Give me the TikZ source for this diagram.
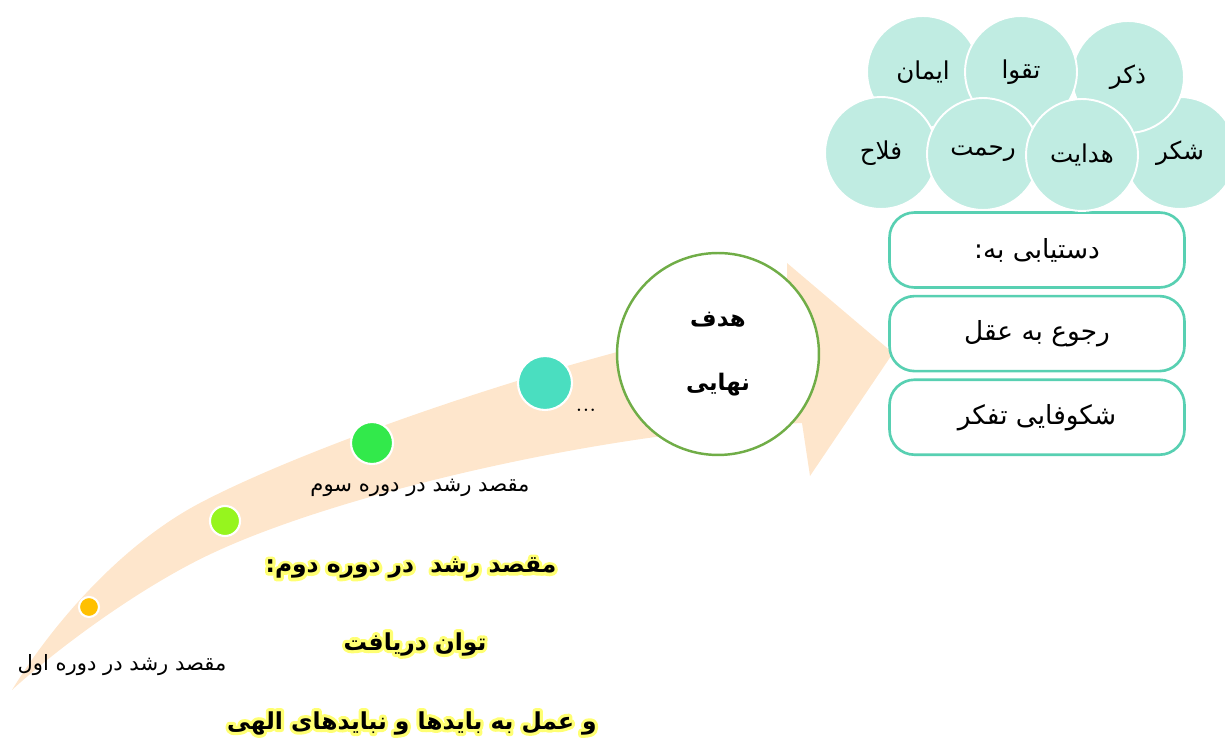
\documentclass[tikz,border=0pt]{standalone}
\usepackage{fontspec}
\newfontfamily\arabicfont[Script=Arabic]{DejaVu Sans}
\TeXXeTstate=1
\usepackage{tikz}
\usetikzlibrary{positioning,shapes,calc}
\definecolor{band1}{RGB}{254, 230, 204}
\definecolor{goal1}{RGB}{112, 173, 71}
\definecolor{box1}{RGB}{88, 208, 178}
\definecolor{virtue1}{RGB}{192, 236, 226}
\definecolor{dot1}{RGB}{255, 192, 0}
\definecolor{dot2}{RGB}{150, 245, 30}
\definecolor{dot3}{RGB}{50, 233, 75}
\definecolor{dot4}{RGB}{74, 222, 192}
\newcommand{\prs}[1]{{\arabicfont\beginR #1\endR}}
% yellow halo: stroked copy under the black text
\newcommand{\halo}[1]{\leavevmode\rlap{\special{pdf:literal direct 1 Tr 3.6 w 1 j 1 1 0.45 RG}#1\special{pdf:literal direct 0 Tr 0 G 0.4 w 0 j}}#1}
\tikzstyle{stagedot} = [circle,draw=white,line width=1.2pt,inner sep=0pt]
\tikzstyle{stagelabel} = [font=\fontsize{12}{14}\selectfont,inner sep=0pt]
\tikzstyle{glowlabel} = [font=\fontsize{13.3}{15}\selectfont\bfseries,inner sep=0pt]
\tikzstyle{goal} = [circle,draw=goal1,fill=white,line width=1.4pt,minimum size=4.04cm,align=center,font=\fontsize{13}{15}\selectfont\bfseries]
\tikzstyle{goalbox} = [rectangle,rounded corners=0.5cm,draw=box1,fill=white,line width=1.5pt,minimum width=5.9cm,minimum height=1.5cm,font=\fontsize{15}{17}\selectfont]
\tikzstyle{virtue} = [circle,fill=virtue1,draw=white,line width=1.1pt,minimum size=2.24cm,font=\fontsize{14}{16}\selectfont]

\begin{document}
\begin{tikzpicture}[x=0.02cm,y=-0.02cm]
    \useasboundingbox (0,0) rectangle (1225,742);

    % curved arrow
    \fill[band1] (12,690) .. controls (55,620) and (124,543) .. (200,503)
      .. controls (320,440) and (600,345) .. (787,314)
      -- (787,263) -- (893,353) -- (810,476) -- (802,423)
      .. controls (600,432) and (340,494) .. (215,552)
      .. controls (145,584) and (60,646) .. (12,690) -- cycle;

    % stages
    \node[stagedot,fill=dot1,minimum size=0.4cm]  (stage1) at (89,607) {};
    \node[stagedot,fill=dot2,minimum size=0.6cm]  (stage2) at (225,521) {};
    \node[stagedot,fill=dot3,minimum size=0.84cm] (stage3) at (372,443) {};
    \node[stagedot,fill=dot4,minimum size=1.08cm] (stage4) at (545,383) {};
    \node[font=\Large] (more) at (586,410) {...};

    \node[stagelabel] (label1) at (122,665) {\prs{مقصد رشد در دوره اول}};
    \node[stagelabel] (label3) at (420,488) {\prs{مقصد رشد در دوره سوم}};

    % final goal
    \node[goal] (goal) at (718,354) {\prs{هدف}\\[0.75cm]\prs{نهایی}};

    % outcomes
    \node[goalbox] (access) at (1037,250) {\prs{دستیابی به:}};
    \node[goalbox,below=0.12cm of access] (reason) {\prs{رجوع به عقل}};
    \node[goalbox,below=0.12cm of reason] (thought) {\prs{شکوفایی تفکر}};

    % virtues
    \foreach \name/\px/\py/\word in {shukr/1180/153/شکر, iman/923/72/ایمان, zikr/1128/77/ذکر, taqwa/1021/72/تقوا, falah/881/153/فلاح, rahmat/983/154/رحمت, hedayat/1082/155/هدایت}
      \node[virtue] (\name) at (\px,\py) {\prs{\word}};

    % second stage
    \node[glowlabel] (label2a) at (411,568) {\halo{\prs{مقصد رشد\ \ در دوره دوم:}}};
    \node[glowlabel] (label2b) at (415,644) {\halo{\prs{توان دریافت}}};
    \node[glowlabel] (label2c) at (412,723) {\halo{\prs{و عمل به بایدها و نبایدهای الهی}}};
\end{tikzpicture}
\end{document}
